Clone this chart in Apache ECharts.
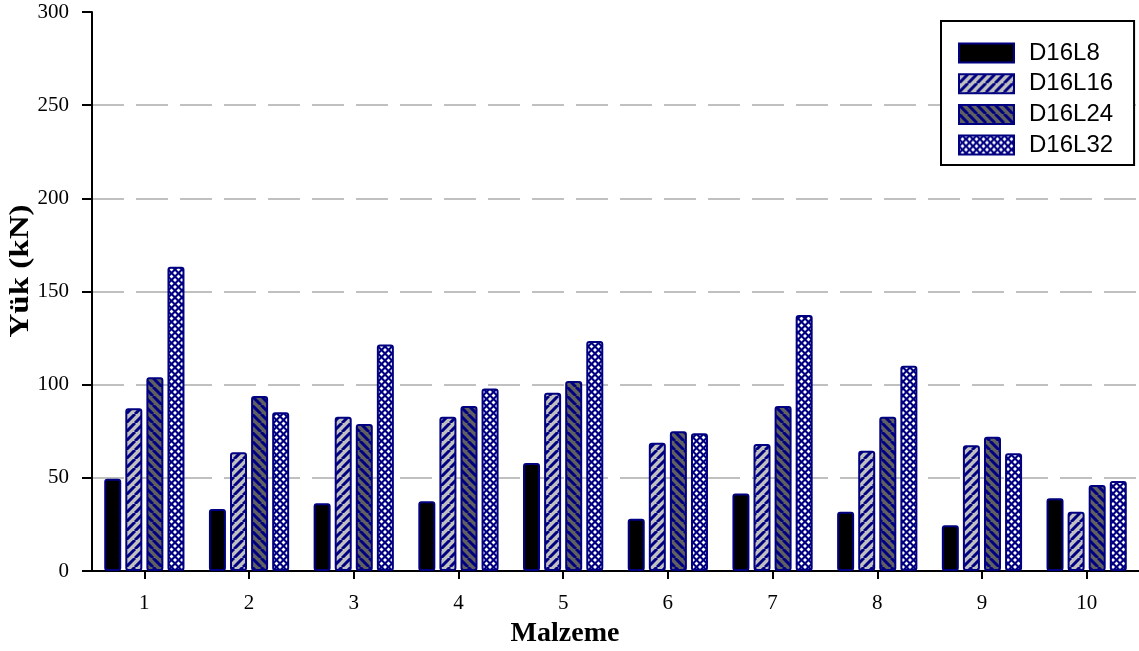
<!DOCTYPE html>
<html>
<head>
<meta charset="utf-8">
<script src="https://cdn.jsdelivr.net/npm/echarts@6/dist/echarts.min.js"></script>
<style>
  html, body { margin: 0; padding: 0; background: #ffffff; }
  #chart { width: 1139px; height: 651px; }
</style>
</head>
<body>
<div id="chart"></div>
<script>
// Material numbers on the x axis
const categories = ['1', '2', '3', '4', '5', '6', '7', '8', '9', '10'];

// Load (kN) for each specimen series
const seriesNames = ['D16L8', 'D16L16', 'D16L24', 'D16L32'];
const d16l8  = [49.5, 33.3, 36.3, 37.5, 58, 28, 41.6, 31.8, 24.5, 39];
const d16l16 = [87.3, 63.7, 82.8, 82.8, 95.6, 68.8, 68.2, 64.5, 67.5, 31.8];
const d16l24 = [104, 93.9, 78.9, 88.5, 102, 75, 88.5, 82.8, 72, 46.2];
const d16l32 = [163.3, 85.2, 121.6, 98, 123.4, 73.9, 137.4, 110.2, 63.2, 48.3];

// Y axis range
const yMin = 0, yMax = 300, yStep = 50;

const NAVY = '#000080';

// Diagonal hatch tile: dir > 0 draws "/", otherwise "\"
function hatch(bg, fg, dir, size, lw) {
  const c = document.createElement('canvas');
  c.width = c.height = size;
  const g = c.getContext('2d');
  g.fillStyle = bg;
  g.fillRect(0, 0, size, size);
  g.strokeStyle = fg;
  g.lineWidth = lw;
  g.beginPath();
  for (let k = -1; k <= 1; k++) {
    if (dir > 0) {
      g.moveTo(k * size, size);
      g.lineTo(k * size + size, 0);
    } else {
      g.moveTo(k * size, 0);
      g.lineTo(k * size + size, size);
    }
  }
  g.stroke();
  return { image: c, repeat: 'repeat' };
}

// Navy tile with white diamond dots
function dots(bg, fg, size, r) {
  const c = document.createElement('canvas');
  c.width = c.height = size;
  const g = c.getContext('2d');
  g.fillStyle = bg;
  g.fillRect(0, 0, size, size);
  g.fillStyle = fg;
  const h = size / 2;
  [[0, 0], [size, 0], [0, size], [size, size], [h, h]].forEach(([x, y]) => {
    g.beginPath();
    g.moveTo(x, y - r);
    g.lineTo(x + r, y);
    g.lineTo(x, y + r);
    g.lineTo(x - r, y);
    g.closePath();
    g.fill();
  });
  return { image: c, repeat: 'repeat' };
}

const fills = [
  '#000000',
  hatch('#c0c0c0', NAVY, 1, 9, 3),
  hatch('#606060', NAVY, -1, 9, 3),
  dots(NAVY, '#ffffff', 7, 2)
];
const values = [d16l8, d16l16, d16l24, d16l32];

const serif = '"Liberation Serif", "Times New Roman", serif';
const sans = '"Liberation Sans", Arial, sans-serif';

const chart = echarts.init(document.getElementById('chart'));
chart.setOption({
  animation: false,
  backgroundColor: '#ffffff',
  grid: { left: 92, right: 0, top: 12, bottom: 80, containLabel: false },
  legend: {
    data: seriesNames,
    orient: 'vertical',
    left: 941,
    top: 21,
    icon: 'rect',
    itemWidth: 55,
    itemHeight: 19,
    itemGap: 6.7,
    padding: [20, 21, 8, 17],
    backgroundColor: '#ffffff',
    borderColor: '#000000',
    borderWidth: 2,
    textStyle: {
      fontFamily: sans,
      fontSize: 24,
      color: '#000000',
      padding: [0, 0, 0, 10]
    }
  },
  xAxis: {
    type: 'category',
    data: categories,
    axisLine: { show: true, lineStyle: { color: '#000000', width: 2 } },
    axisTick: { show: true, alignWithLabel: true, length: 8, lineStyle: { color: '#000000', width: 2 } },
    axisLabel: { fontFamily: serif, fontSize: 21, color: '#000000', margin: 22 },
    splitLine: { show: false }
  },
  yAxis: {
    type: 'value',
    min: yMin,
    max: yMax,
    interval: yStep,
    axisLine: { show: true, lineStyle: { color: '#000000', width: 2 } },
    axisTick: { show: true, length: 10, lineStyle: { color: '#000000', width: 2 } },
    axisLabel: { fontFamily: serif, fontSize: 21, color: '#000000', margin: 23 },
    splitLine: {
      show: true,
      showMinLine: false,
      showMaxLine: false,
      lineStyle: { color: '#c0c0c0', width: 2, type: [32, 12] }
    }
  },
  graphic: [
    {
      type: 'text',
      x: 21,
      y: 271,
      rotation: Math.PI / 2,
      scaleX: 1.18,
      style: {
        text: 'Yük (kN)',
        font: 'bold 28px ' + serif,
        fill: '#000000',
        align: 'center',
        verticalAlign: 'middle'
      }
    },
    {
      type: 'text',
      x: 565,
      y: 634,
      style: {
        text: 'Malzeme',
        font: 'bold 28px ' + serif,
        fill: '#000000',
        align: 'center',
        verticalAlign: 'middle'
      }
    }
  ],
  series: seriesNames.map((name, i) => ({
    name: name,
    type: 'bar',
    data: values[i],
    barWidth: 17,
    barGap: '24%',
    itemStyle: {
      color: fills[i],
      borderColor: NAVY,
      borderWidth: 2,
      borderRadius: 2
    }
  }))
});
</script>
</body>
</html>
